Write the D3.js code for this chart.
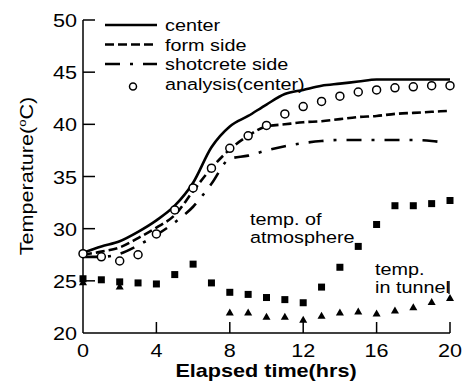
<!DOCTYPE html>
<html>
<head>
<meta charset="utf-8">
<script src="https://cdn.jsdelivr.net/npm/d3@7"></script>
<style>
  body { margin: 0; background: #fff; }
  text { font-family: "Liberation Sans", Arial, sans-serif; fill: #000; }
</style>
</head>
<body>
<svg id="chart"></svg>
<script>
(function() {

// data
var hours = [0, 1, 2, 3, 4, 5, 6, 7, 8, 9, 10, 11, 12, 13, 14, 15, 16, 17, 18, 19, 20];
var center = [27.7, 28.3, 28.8, 29.7, 30.8, 32.2, 34.4, 37.8, 39.8, 40.8, 41.9, 42.9, 43.3, 43.7, 43.9, 44.1, 44.3, 44.3, 44.3, 44.3, 44.3];
var formSide = [27.5, 27.8, 28.2, 29.1, 30.1, 31.3, 33.6, 35.8, 37.6, 38.9, 39.8, 40.0, 40.2, 40.3, 40.5, 40.7, 40.8, 41.0, 41.1, 41.2, 41.3];
var shotHours = [0, 1, 2, 3, 4, 5, 6, 7, 8, 9, 10, 11, 12, 13, 14, 15, 16, 17, 18, 19, 19.5];
var shotSide = [27.3, 27.3, 27.6, 28.4, 29.4, 30.6, 32.1, 34.3, 36.7, 37.0, 37.5, 37.9, 38.2, 38.4, 38.5, 38.5, 38.5, 38.5, 38.5, 38.4, 38.3];
var analysis = [27.6, 27.3, 26.9, 27.5, 29.5, 31.8, 33.9, 35.8, 37.7, 38.9, 39.9, 41.0, 41.7, 42.2, 42.7, 43.1, 43.3, 43.5, 43.6, 43.7, 43.7];
var atmosphere = [25.2, 25.1, 24.9, 24.8, 24.7, 25.6, 26.6, 24.8, 23.9, 23.7, 23.4, 23.2, 22.9, 24.4, 26.3, 28.3, 30.4, 32.2, 32.2, 32.4, 32.7];
var tunnelHours = [0, 2, 8, 9, 10, 11, 12, 13, 14, 15, 16, 17, 18, 19, 20];
var tunnel = [24.8, 24.4, 21.9, 21.9, 21.5, 21.5, 21.2, 21.6, 21.9, 22.0, 21.8, 22.1, 22.4, 22.9, 23.3];
var xTicks = [0, 4, 8, 12, 16, 20];
var yTicks = [20, 25, 30, 35, 40, 45, 50];
var legendLabels = ['center', 'form side', 'shotcrete side', 'analysis(center)'];

var W = 473, H = 382;
var svg = d3.select('#chart').attr('width', W).attr('height', H);

var x = d3.scaleLinear().domain([0, 20]).range([83, 450]);
var y = d3.scaleLinear().domain([20, 50]).range([333, 20]);

var SX = 1.2; // the scanned text is stretched sideways

function label(g, tx, ty, str, size, anchor, weight, rot) {
  return g.append('text')
    .attr('transform', 'translate(' + tx + ',' + ty + ')' + (rot ? ' rotate(' + rot + ')' : '') + ' scale(' + SX + ',1)')
    .attr('font-size', size)
    .attr('font-weight', weight || 'normal')
    .attr('text-anchor', anchor || 'start')
    .text(str);
}

// axes
var axes = svg.append('g').attr('stroke', '#000').attr('stroke-width', 1.5).attr('fill', 'none');
axes.append('line').attr('x1', x(0)).attr('x2', x(0)).attr('y1', y(50)).attr('y2', y(20));
axes.append('line').attr('x1', x(0)).attr('x2', x(20)).attr('y1', y(20)).attr('y2', y(20));

axes.selectAll('.yt').data(yTicks.slice(1)).enter().append('line')
  .attr('x1', x(0)).attr('x2', x(0) + 12)
  .attr('y1', function(d) { return y(d); }).attr('y2', function(d) { return y(d); });
axes.selectAll('.xt').data(xTicks.slice(1)).enter().append('line')
  .attr('x1', function(d) { return x(d); }).attr('x2', function(d) { return x(d); })
  .attr('y1', y(20)).attr('y2', y(20) - 11);

var labels = svg.append('g');
yTicks.forEach(function(d) {
  label(labels, 77, y(d) + 7, d, 18, 'end');
});
xTicks.forEach(function(d) {
  label(labels, x(d), 357, d, 18, 'middle');
});
label(labels, 266, 377, 'Elapsed time(hrs)', 18, 'middle', 'bold');

var yt = svg.append('text')
  .attr('transform', 'translate(33,176) rotate(-90) scale(' + SX + ',1)')
  .attr('font-size', 18)
  .attr('text-anchor', 'middle');
yt.append('tspan').text('Temperature(');
yt.append('tspan').attr('font-size', 11).attr('dy', -7).text('o');
yt.append('tspan').attr('dy', 7).text('C)');

// lines
var line = d3.line()
  .x(function(d) { return x(d[0]); })
  .y(function(d) { return y(d[1]); })
  .curve(d3.curveMonotoneX);

var series = [
  { pts: d3.zip(hours, center), dash: null },
  { pts: d3.zip(hours, formSide), dash: '9,4' },
  { pts: d3.zip(shotHours, shotSide), dash: '15,10,3,10' }
];

svg.selectAll('.series').data(series).enter().append('path')
  .attr('class', 'series')
  .attr('fill', 'none')
  .attr('stroke', '#000')
  .attr('stroke-width', 2.6)
  .attr('stroke-dasharray', function(d) { return d.dash; })
  .attr('d', function(d) { return line(d.pts); });

// atmosphere squares
svg.selectAll('.sq').data(d3.zip(hours, atmosphere)).enter().append('rect')
  .attr('x', function(d) { return x(d[0]) - 3.5; })
  .attr('y', function(d) { return y(d[1]) - 3.5; })
  .attr('width', 7).attr('height', 7)
  .attr('fill', '#000');

// tunnel triangles
var tri = d3.symbol().type(d3.symbolTriangle).size(28);
svg.selectAll('.tri').data(d3.zip(tunnelHours, tunnel)).enter().append('path')
  .attr('transform', function(d) { return 'translate(' + x(d[0]) + ',' + y(d[1]) + ')'; })
  .attr('d', tri)
  .attr('fill', '#000');

// analysis circles
svg.selectAll('.an').data(d3.zip(hours, analysis)).enter().append('circle')
  .attr('cx', function(d) { return x(d[0]); })
  .attr('cy', function(d) { return y(d[1]); })
  .attr('r', 4)
  .attr('fill', '#fff')
  .attr('stroke', '#000')
  .attr('stroke-width', 1.5);

// legend
var legend = svg.append('g');
var dashes = [null, '9,4', '15,10,3,10'];
legendLabels.forEach(function(d, i) {
  var ly = 25 + i * 19.5;
  if (i < 3) {
    legend.append('line')
      .attr('x1', 105).attr('x2', 157).attr('y1', ly).attr('y2', ly)
      .attr('stroke', '#000').attr('stroke-width', 2.6)
      .attr('stroke-dasharray', dashes[i]);
  } else {
    legend.append('circle').attr('cx', 133).attr('cy', ly + 3).attr('r', 3.5)
      .attr('fill', '#fff').attr('stroke', '#000').attr('stroke-width', 1.5);
  }
  label(legend, 165, ly + 6, d, 16.5, 'start');
});

// annotations
var ann = svg.append('g');
label(ann, 250, 225, 'temp. of', 16.5);
label(ann, 250, 243, 'atmosphere', 16.5);
label(ann, 375, 275, 'temp.', 16.5);
label(ann, 375, 293, 'in tunnel', 16.5);
ann.append('line').attr('x1', 449).attr('x2', 449).attr('y1', 281).attr('y2', 294)
  .attr('stroke', '#000').attr('stroke-width', 1.3);

})();
</script>
</body>
</html>
